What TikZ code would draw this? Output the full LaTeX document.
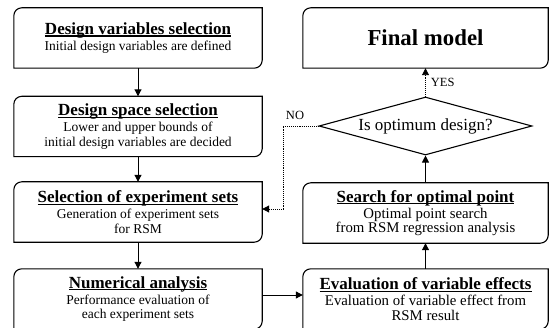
\documentclass[tikz,border=0pt]{standalone}
\usepackage{fontspec}
\setmainfont{Liberation Serif}
\usetikzlibrary{arrows.meta,shapes.geometric}
\newcommand\twocornerbox[1]{\draw[boxline] ([xshift=8pt]#1.north west) -- (#1.north east) -- ([yshift=8pt]#1.south east) arc[start angle=0,end angle=-90,radius=8pt] -- (#1.south west) -- ([yshift=-8pt]#1.north west) arc[start angle=180,end angle=90,radius=8pt] -- cycle;}
\newcommand\boxtitle[1]{{\fontsize{17}{17}\selectfont\bfseries\setbox0\hbox{#1}\rlap{\rule[-2.2pt]{\wd0}{1.1pt}}\box0}\\[1.5pt]}
\tikzset{
  boxline/.style={line width=1.1pt},
  lbox/.style={minimum width=248pt, minimum height=60pt, inner sep=0pt, align=center, font=\fontsize{13.5}{14.6}\selectfont},
  rbox/.style={lbox, minimum width=245pt, font=\fontsize{14.8}{14.4}\selectfont},
  flow/.style={line width=1pt, -{Triangle[length=7pt,width=7pt]}},
  dotflow/.style={line width=0.9pt, densely dotted, -{Triangle[length=7pt,width=7pt]}},
  lbl/.style={font=\fontsize{12.5}{13}\selectfont, inner sep=1pt}
}
\begin{document}
\begin{tikzpicture}[x=1pt,y=1pt]
\useasboundingbox (0,0) rectangle (549,327);
\node[lbox] (b1) at (138,289) {\boxtitle{Design variables selection}Initial design variables are defined};
\node[lbox] (b2) at (138,200.5) {\boxtitle{Design space selection}Lower and upper bounds of\\initial design variables are decided};
\node[lbox] (b3) at (138,115) {\boxtitle{Selection of experiment sets}Generation of experiment sets\\for RSM};
\node[lbox] (b4) at (138,28) {\boxtitle{Numerical analysis}Performance evaluation of\\each experiment sets};
\node[rbox] (r1) at (425.5,289) {\fontsize{22.8}{24}\selectfont\bfseries Final model};
\node[draw, diamond, aspect=3.67, line width=1.1pt, minimum width=213pt, minimum height=58pt, inner sep=0pt] (d) at (425.5,201) {};
\node[font=\fontsize{17}{18}\selectfont] (dt) at (425.5,201) {Is optimum design?};
\node[rbox] (r3) at (425.5,114) {\boxtitle{Search for optimal point}Optimal point search\\from RSM regression analysis};
\node[rbox] (r4) at (425.5,28) {\boxtitle{Evaluation of variable effects}Evaluation of variable effect from\\RSM result};
\foreach \n in {b1,b2,b3,b4,r1,r3,r4}{\twocornerbox{\n}}
\draw[flow] (b1.south) -- (b2.north);
\draw[flow] (b2.south) -- (b3.north);
\draw[flow] (b3.south) -- (b4.north);
\coordinate (e1) at (b4.east |- 0,32);
\coordinate (e2) at (r4.west |- 0,32);
\draw[flow] (e1) -- (e2);
\draw[flow] (r4.north) -- (r3.south);
\draw[flow] (r3.north) -- (d.south);
\draw[dotflow] (d.north) -- (r1.south) node[lbl, midway, right=4pt] {YES};
\coordinate (n1) at (283,201);
\coordinate (n2) at (283,118);
\coordinate (n3) at (b3.east |- n2);
\draw[dotflow] (d.west) -- (n1) -- (n2) -- (n3);
\node[lbl] (no) at (295,212) {NO};
\end{tikzpicture}
\end{document}
